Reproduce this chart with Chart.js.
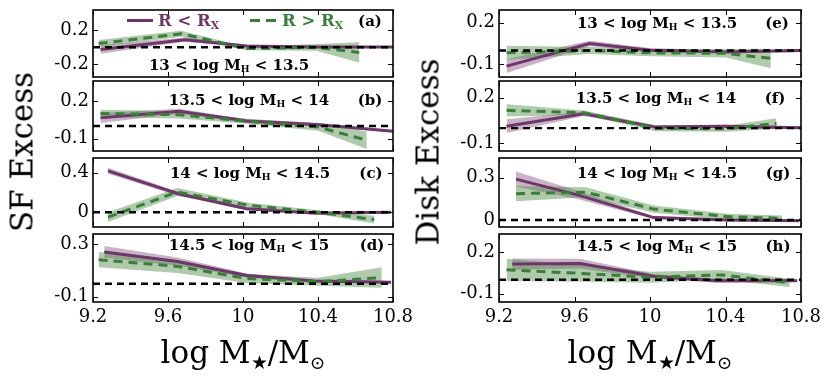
<!DOCTYPE html>
<html><head><meta charset="utf-8">
<script src="https://cdn.jsdelivr.net/npm/chart.js@4.4.1/dist/chart.umd.min.js"></script>
<style>
html,body{margin:0;padding:0;background:#fff;}
#wrap{position:relative;width:831px;height:376px;overflow:hidden;background:#fff;}
canvas{position:absolute;}
.lbl{position:absolute;font-family:'DejaVu Serif',serif;font-weight:bold;font-size:15px;white-space:nowrap;transform:translate(-50%,-50%);line-height:1;color:#000;}
.lbl sub{font-size:62%;vertical-align:-0.3em;line-height:0;}
.leg{position:absolute;font-family:'DejaVu Serif',serif;font-weight:bold;font-size:16.5px;white-space:nowrap;transform:translateY(-50%);line-height:1;}
.leg sub{font-size:65%;vertical-align:-0.3em;line-height:0;}
.title{position:absolute;font-family:'DejaVu Serif',serif;font-size:31px;white-space:nowrap;line-height:1;color:#000;transform:translate(-50%,-50%);}
.title sub{font-size:60%;vertical-align:-0.35em;line-height:0;}
.rot{transform:translate(-50%,-50%) rotate(-90deg);}
.bar{position:absolute;}
</style></head><body><div id="wrap"></div>
<script>
// ---- data ----
const xTickValues = [9.2, 9.6, 10, 10.4, 10.8];
const xTickLabels = ['9.2', '9.6', '10', '10.4', '10.8'];
const haloLow  = ['13', '13.5', '14', '14.5', '13', '13.5', '14', '14.5'];
const haloHigh = ['13.5', '14', '14.5', '15', '13.5', '14', '14.5', '15'];
const panelLetters = ['(a)', '(b)', '(c)', '(d)', '(e)', '(f)', '(g)', '(h)'];
const yAxisTitles = ['SF Excess', 'Disk Excess'];
const legendNames = ['R < R', 'R > R'];
const yMin = [-0.35, -0.2, -0.15, -0.14, -0.19, -0.15, -0.05, -0.16];
const yMax = [0.44, 0.36, 0.55, 0.38, 0.29, 0.31, 0.44, 0.33];
const yTickValues = [[-0.2, 0.2], [-0.1, 0.2], [0, 0.4], [-0.1, 0.3], [-0.1, 0.2], [-0.1, 0.2], [0, 0.3], [-0.1, 0.2]];
const yTickLabels = [['-0.2', '0.2'], ['-0.1', '0.2'], ['0', '0.4'], ['-0.1', '0.3'], ['-0.1', '0.2'], ['-0.1', '0.2'], ['0', '0.3'], ['-0.1', '0.2']];

// R < R_X (purple, solid)
const innerX = [
  [9.24, 9.69, 10.02, 10.4, 10.8],
  [9.24, 9.66, 10.02, 10.4, 10.8],
  [9.28, 9.65, 10.02, 10.39, 10.79],
  [9.26, 9.65, 10.02, 10.38, 10.79],
  [9.24, 9.68, 10.0, 10.4, 10.8],
  [9.24, 9.65, 10.03, 10.4, 10.8],
  [9.29, 9.61, 10.02, 10.41, 10.79],
  [9.27, 9.63, 10.02, 10.35, 10.78]
];
const innerY = [
  [-0.027, 0.09, 0.015, 0.003, 0.003],
  [0.065, 0.118, 0.04, 0.011, -0.042],
  [0.42, 0.19, 0.035, -0.01, 0.0],
  [0.243, 0.17, 0.062, 0.021, 0.011],
  [-0.112, 0.05, 0.002, -0.01, 0.0],
  [0.013, 0.095, 0.007, 0.013, 0.003],
  [0.29, 0.18, 0.017, 0.0, -0.005],
  [0.113, 0.117, 0.025, -0.006, -0.006]
];
const innerErr = [
  [0.05, 0.025, 0.015, 0.012, 0.012],
  [0.04, 0.02, 0.015, 0.015, 0.01],
  [0.03, 0.02, 0.015, 0.01, 0.01],
  [0.045, 0.03, 0.015, 0.01, 0.01],
  [0.05, 0.02, 0.015, 0.01, 0.01],
  [0.045, 0.015, 0.01, 0.01, 0.01],
  [0.055, 0.03, 0.01, 0.01, 0.01],
  [0.04, 0.035, 0.015, 0.015, 0.01]
];
// R > R_X (green, dashed)
const outerX = [
  [9.23, 9.67, 10.02, 10.39, 10.62],
  [9.24, 9.66, 10.02, 10.4, 10.66],
  [9.28, 9.65, 10.03, 10.4, 10.7],
  [9.23, 9.65, 10.02, 10.4, 10.74],
  [9.24, 9.68, 10.0, 10.4, 10.64],
  [9.24, 9.65, 10.03, 10.4, 10.67],
  [9.29, 9.66, 10.02, 10.41, 10.7],
  [9.24, 9.64, 10.0, 10.38, 10.74]
];
const outerY = [
  [0.045, 0.16, -0.015, 0.0, -0.06],
  [0.1, 0.09, 0.038, -0.008, -0.114],
  [-0.05, 0.205, 0.07, 0.0, -0.075],
  [0.184, 0.132, 0.04, 0.015, 0.047],
  [-0.017, 0.0, -0.017, -0.02, -0.057],
  [0.117, 0.101, 0.0, -0.004, 0.031],
  [0.187, 0.197, 0.077, 0.024, 0.012],
  [0.072, 0.046, 0.018, 0.035, -0.022]
];
const outerErr = [
  [0.04, 0.035, 0.02, 0.04, 0.12],
  [0.03, 0.03, 0.02, 0.03, 0.07],
  [0.05, 0.04, 0.025, 0.02, 0.04],
  [0.058, 0.05, 0.035, 0.03, 0.078],
  [0.05, 0.025, 0.025, 0.03, 0.07],
  [0.04, 0.015, 0.02, 0.02, 0.035],
  [0.054, 0.035, 0.025, 0.02, 0.02],
  [0.08, 0.06, 0.04, 0.035, 0.03]
];

// ---- styles / layout ----
const PURPLE = '#6d3769';
const PURPLE_BAND = 'rgba(112,55,107,0.38)';
const GREEN = '#3c7d3c';
const GREEN_BAND = 'rgba(78,140,70,0.45)';
const colL = [[93, 393], [499, 801]];
const rows = [[10, 77], [81, 151], [158, 227], [234, 302]];
const labelPos = [[229, 65], [249, 100], [250, 173], [249, 245], [657, 23], [656, 98], [657, 173], [657, 246]];
const letterPos = [[370, 21], [370, 100], [371, 173], [372, 245], [777, 23], [775, 98], [778, 173], [778, 246]];
const LEFTW = 62, RIGHTW = 22, TOPM = 12;

const wrap = document.getElementById('wrap');

const framePlugin = {
  id: 'frame',
  afterDraw(chart) {
    const {ctx, chartArea: a, scales: {x, y}} = chart;
    ctx.save();
    ctx.strokeStyle = '#000';
    ctx.lineWidth = 1;
    const tl = 5;
    ctx.beginPath();
    x.ticks.forEach(t => {
      const px = Math.round(x.getPixelForValue(t.value)) + 0.5;
      ctx.moveTo(px, a.top); ctx.lineTo(px, a.top + tl);
      ctx.moveTo(px, a.bottom); ctx.lineTo(px, a.bottom - tl);
    });
    y.ticks.forEach(t => {
      const py = Math.round(y.getPixelForValue(t.value)) + 0.5;
      ctx.moveTo(a.left, py); ctx.lineTo(a.left + tl, py);
      ctx.moveTo(a.right, py); ctx.lineTo(a.right - tl, py);
    });
    ctx.stroke();
    ctx.lineWidth = 1.6;
    ctx.strokeRect(a.left, a.top, a.right - a.left, a.bottom - a.top);
    ctx.restore();
  }
};

function pts(xs, ys, off) {
  return xs.map((v, k) => ({x: v, y: ys[k] + (off ? off[k] : 0)}));
}

for (let i = 0; i < 8; i++) {
  const col = i < 4 ? 0 : 1;
  const row = i % 4;
  const isBottom = row === 3;
  const [fl, fr] = colL[col];
  const [ft, fb] = rows[row];
  const bottomM = isBottom ? 40 : 12;
  const w = (fr - fl) + LEFTW + RIGHTW;
  const h = (fb - ft) + TOPM + bottomM;
  const cv = document.createElement('canvas');
  cv.width = w; cv.height = h;
  cv.style.left = (fl - LEFTW) + 'px';
  cv.style.top = (ft - TOPM) + 'px';
  cv.style.width = w + 'px'; cv.style.height = h + 'px';
  wrap.appendChild(cv);

  const negI = innerErr[i].map(v => -v), negO = outerErr[i].map(v => -v);
  const datasets = [
    {data: [{x: 9.2, y: 0}, {x: 10.8, y: 0}], borderColor: '#000', borderWidth: 2.4, borderDash: [7, 5], pointRadius: 0, order: 0, fill: false},
    {data: pts(outerX[i], outerY[i]), borderColor: GREEN, borderWidth: 3, borderDash: [9, 6], pointRadius: 0, order: 1, fill: false},
    {data: pts(innerX[i], innerY[i]), borderColor: PURPLE, borderWidth: 3, pointRadius: 0, order: 2, fill: false},
    {data: pts(outerX[i], outerY[i], outerErr[i]), borderWidth: 0, borderColor: 'rgba(0,0,0,0)', pointRadius: 0, backgroundColor: GREEN_BAND, fill: '+1', order: 3},
    {data: pts(outerX[i], outerY[i], negO), borderWidth: 0, borderColor: 'rgba(0,0,0,0)', pointRadius: 0, fill: false, order: 4},
    {data: pts(innerX[i], innerY[i], innerErr[i]), borderWidth: 0, borderColor: 'rgba(0,0,0,0)', pointRadius: 0, backgroundColor: PURPLE_BAND, fill: '+1', order: 5},
    {data: pts(innerX[i], innerY[i], negI), borderWidth: 0, borderColor: 'rgba(0,0,0,0)', pointRadius: 0, fill: false, order: 6}
  ];

  new Chart(cv, {
    type: 'line',
    data: {datasets},
    options: {
      responsive: false, animation: false, devicePixelRatio: 1,
      events: [],
      layout: {padding: {left: 0, right: RIGHTW, top: TOPM, bottom: isBottom ? 0 : 12}},
      plugins: {legend: {display: false}, tooltip: {enabled: false}},
      elements: {line: {tension: 0}},
      scales: {
        x: {
          type: 'linear', min: 9.2, max: 10.8,
          afterBuildTicks: s => { s.ticks = xTickValues.map(v => ({value: v})); },
          ticks: {display: isBottom, autoSkip: false, maxRotation: 0, padding: 5, color: '#000',
                  font: {family: 'DejaVu Serif', size: 18},
                  callback: (v, k) => xTickLabels[k]},
          grid: {display: false, drawTicks: false}, border: {display: false},
          afterFit: s => { s.height = isBottom ? 40 : 0; s.paddingLeft = 0; s.paddingRight = 0; }
        },
        y: {
          type: 'linear', min: yMin[i], max: yMax[i],
          afterBuildTicks: s => { s.ticks = yTickValues[i].map(v => ({value: v})); },
          ticks: {padding: 4, color: '#000', font: {family: 'DejaVu Serif', size: 18},
                  callback: (v, k) => yTickLabels[i][k]},
          grid: {display: false, drawTicks: false}, border: {display: false},
          afterFit: s => { s.width = LEFTW; s.paddingTop = 0; s.paddingBottom = 0; }
        }
      }
    },
    plugins: [framePlugin]
  });

  const lab = document.createElement('div');
  lab.className = 'lbl';
  lab.innerHTML = haloLow[i] + ' &lt; log M<sub>H</sub> &lt; ' + haloHigh[i];
  lab.style.left = labelPos[i][0] + 'px'; lab.style.top = labelPos[i][1] + 'px';
  wrap.appendChild(lab);
  const let_ = document.createElement('div');
  let_.className = 'lbl';
  let_.textContent = panelLetters[i];
  let_.style.left = letterPos[i][0] + 'px'; let_.style.top = letterPos[i][1] + 'px';
  wrap.appendChild(let_);
}

// legend (panel a)
function addDiv(cls, css, html) {
  const d = document.createElement('div');
  d.className = cls; Object.assign(d.style, css);
  if (html !== undefined) d.innerHTML = html;
  wrap.appendChild(d); return d;
}
addDiv('bar', {left: '127px', top: '18.5px', width: '26px', height: '3px', background: PURPLE});
addDiv('leg', {left: '158px', top: '20.5px', color: PURPLE}, legendNames[0].replace('<', '&lt;') + '<sub>X</sub>');
addDiv('bar', {left: '250px', top: '18.5px', width: '10px', height: '3px', background: GREEN});
addDiv('bar', {left: '266px', top: '18.5px', width: '10px', height: '3px', background: GREEN});
addDiv('leg', {left: '282px', top: '20.5px', color: GREEN}, legendNames[1].replace('>', '&gt;') + '<sub>X</sub>');

// axis titles
addDiv('title rot', {left: '22px', top: '152px'}, yAxisTitles[0]);
addDiv('title rot', {left: '428px', top: '152px'}, yAxisTitles[1]);
addDiv('title', {left: '243px', top: '352px'}, 'log M<sub>★</sub>/M<sub>⊙</sub>');
addDiv('title', {left: '650px', top: '352px'}, 'log M<sub>★</sub>/M<sub>⊙</sub>');
</script>
</body></html>
